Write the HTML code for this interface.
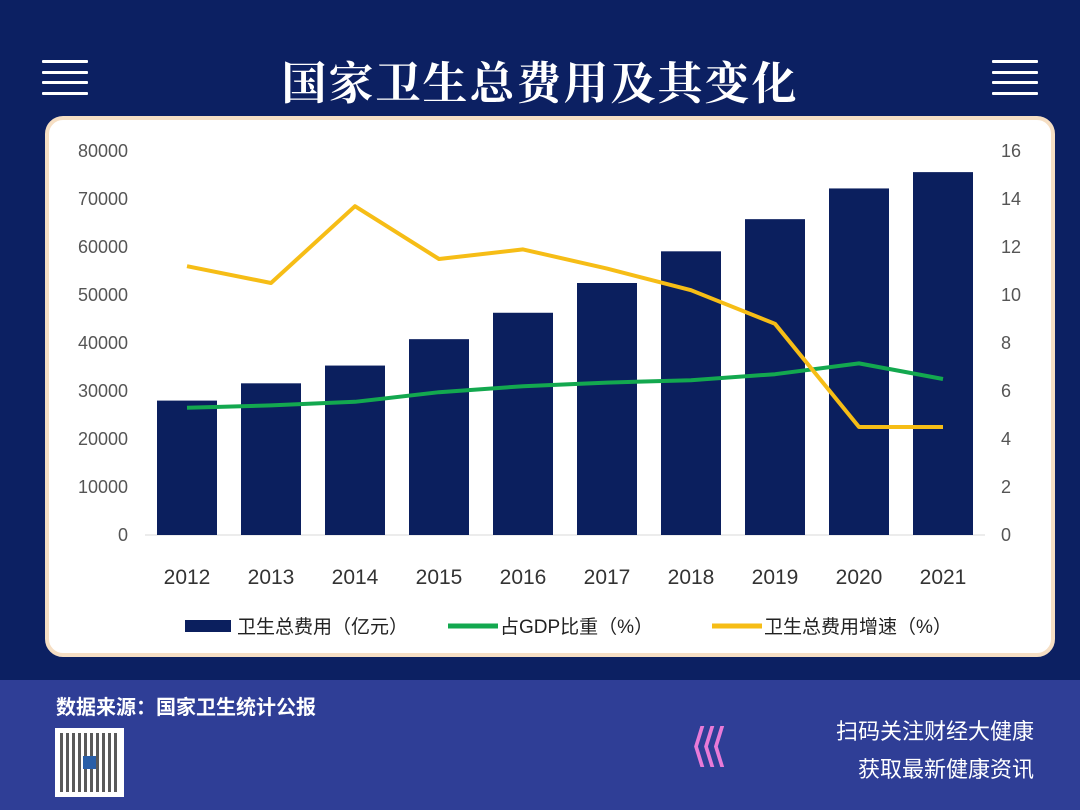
<!DOCTYPE html>
<html><head><meta charset="utf-8"><style>
html,body{margin:0;padding:0}
body{width:1080px;height:810px;position:relative;overflow:hidden;background:#0c2062;font-family:"Liberation Sans","Noto Sans CJK SC",sans-serif}
.ham{position:absolute;width:46px;height:34px}
.ham i{display:block;height:3px;background:#fff;margin-bottom:7.5px;border-radius:1px}
#title{position:absolute;left:0;width:1080px;top:47px;text-align:center;color:#fff;font-size:45px;font-weight:bold;font-family:"Noto Serif CJK SC","Noto Sans CJK SC",serif;letter-spacing:2px}
#card{position:absolute;left:45px;top:116px;width:1002px;height:533px;background:#fff;border:4px solid #f6dfc4;border-radius:18px}
#footer{position:absolute;left:0;top:680px;width:1080px;height:130px;background:#2f3e96}
</style></head><body>
<div class="ham" style="left:42px;top:60px"><i></i><i></i><i></i><i></i></div>
<div class="ham" style="left:992px;top:60px"><i></i><i></i><i></i><i></i></div>
<div id="title">国家卫生总费用及其变化</div>
<div id="card"></div>
<svg id="chart" width="1080" height="680" style="position:absolute;left:0;top:0"></svg>
<div id="footer">
<div style="position:absolute;left:56px;top:11px;color:#fff;font-size:20px;font-weight:bold">数据来源：国家卫生统计公报</div>
<div style="position:absolute;left:55px;top:48px;width:69px;height:69px;background:#fff">
<div style="position:absolute;left:5px;top:5px;width:59px;height:59px;background:repeating-linear-gradient(90deg,#222 0 3px,#fff 3px 6px),#222;opacity:.75"></div>
<div style="position:absolute;left:28px;top:28px;width:13px;height:13px;background:#2a5fa8"></div></div>
<div style="position:absolute;left:690px;top:38px;color:#e97ad8;font-size:46px;letter-spacing:-8px;font-family:'DejaVu Sans',sans-serif">⟨⟨⟨</div>
<div style="position:absolute;right:46px;top:34px;color:#fff;font-size:22px">扫码关注财经大健康</div>
<div style="position:absolute;right:46px;top:72px;color:#fff;font-size:22px">获取最新健康资讯</div>
</div>
<script>
const years=["2012","2013","2014","2015","2016","2017","2018","2019","2020","2021"];
const spending=[28000,31600,35300,40800,46300,52500,59100,65800,72200,75600];
const gdpShare=[5.3,5.4,5.55,5.95,6.2,6.35,6.45,6.7,7.15,6.5];
const growth=[11.2,10.5,13.7,11.5,11.9,11.1,10.2,8.8,4.5,4.5];
const leftTicks=[0,10000,20000,30000,40000,50000,60000,70000,80000];
const rightTicks=[0,2,4,6,8,10,12,14,16];
const svg=document.getElementById('chart');const NS='http://www.w3.org/2000/svg';
const y0=535,y1=151,xL=145,xR=985;
const yL=v=>y0-(v/80000)*(y0-y1);
const yR=v=>y0-(v/16)*(y0-y1);
const band=(xR-xL)/years.length;
const xC=i=>xL+band*(i+0.5);
function mk(t,a,txt){const e=document.createElementNS(NS,t);for(const k in a)e.setAttribute(k,a[k]);if(txt!=null)e.textContent=txt;svg.appendChild(e);return e;}
leftTicks.forEach(v=>{const e=mk('text',{x:128,y:yL(v)+6,'text-anchor':'end','font-size':18,fill:'#555'},v);

});
rightTicks.forEach(v=>{const e=mk('text',{x:1001,y:yR(v)+6,'font-size':18,fill:'#555'},v);

});
const ax=mk('line',{x1:xL,x2:xR,y1:y0,y2:y0,stroke:'#d9d9d9','stroke-width':1});


spending.forEach((v,i)=>{const b=mk('rect',{x:xC(i)-30,y:yL(v),width:60,height:y0-yL(v),fill:'#0b1f5e'});

});
years.forEach((y,i)=>{const t=mk('text',{x:xC(i),y:584,'text-anchor':'middle','font-size':21,fill:'#333'},y);

});
const gl=mk('polyline',{points:gdpShare.map((v,i)=>xC(i)+','+yR(v)).join(' '),fill:'none',stroke:'#13a84f','stroke-width':4,'stroke-linejoin':'round'});


const yl=mk('polyline',{points:growth.map((v,i)=>xC(i)+','+yR(v)).join(' '),fill:'none',stroke:'#f6bd16','stroke-width':4,'stroke-linejoin':'round'});


const lg=[[185,'rect','#0b1f5e','卫生总费用（亿元）'],[448,'line','#13a84f','占GDP比重（%）'],[712,'line','#f6bd16','卫生总费用增速（%）']];
lg.forEach(l=>{if(l[1]=='rect'){const r=mk('rect',{x:l[0],y:620,width:46,height:12,fill:l[2]});

}
else{const r=mk('line',{x1:l[0],x2:l[0]+50,y1:626,y2:626,stroke:l[2],'stroke-width':5});

}
const t=mk('text',{x:l[0]+52,y:633,'font-size':19,fill:'#222'},l[3]);

});
</script>
</body></html>
